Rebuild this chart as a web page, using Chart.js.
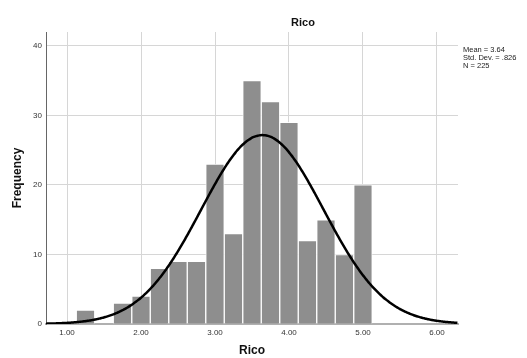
<!DOCTYPE html>
<html>
<head>
<meta charset="utf-8">
<script src="https://cdn.jsdelivr.net/npm/chart.js@4/dist/chart.umd.min.js"></script>
<style>
  html, body { margin: 0; padding: 0; background: #fff; }
  #wrap { width: 527px; height: 358px; position: relative; }
</style>
</head>
<body>
<div id="wrap"><canvas id="hist"></canvas></div>
<script>
// histogram bins (width 0.25) and their counts
const binCenters = [1.25, 1.5, 1.75, 2.0, 2.25, 2.5, 2.75, 3.0, 3.25, 3.5, 3.75, 4.0, 4.25, 4.5, 4.75, 5.0];
const frequencies = [2, 0, 3, 4, 8, 9, 9, 23, 13, 35, 32, 29, 12, 15, 10, 20];
const binWidth = 0.25;

// summary statistics shown beside the plot
const statMean = 3.64;
const statSd = 0.826;
const statN = 225;
const statLines = ['Mean = 3.64', 'Std. Dev. = .826', 'N = 225'];

const xTicks = [1, 2, 3, 4, 5, 6];
const yTicks = [0, 10, 20, 30, 40];

const FONT = "'Liberation Sans', Arial, sans-serif";

// fitted normal curve scaled to counts per bin
function normalCurve(mean, sd, n, width, from, to, step) {
  const pts = [];
  for (let x = from; x <= to + 1e-9; x += step) {
    const z = (x - mean) / sd;
    pts.push({ x: x, y: n * width * Math.exp(-0.5 * z * z) / (sd * Math.sqrt(2 * Math.PI)) });
  }
  return pts;
}

const xMin = 0.716;
const xMax = 6.284;

const extraText = {
  id: 'extraText',
  afterDraw(chart) {
    const ctx = chart.ctx;
    ctx.save();
    ctx.fillStyle = '#111';
    ctx.font = 'bold 11px ' + FONT;
    ctx.textAlign = 'center';
    ctx.textBaseline = 'middle';
    ctx.fillText('Rico', 303, 23);

    ctx.font = '7.5px ' + FONT;
    ctx.textAlign = 'left';
    ctx.fillStyle = '#222';
    statLines.forEach((t, i) => ctx.fillText(t, 463, 50 + i * 8));
    ctx.restore();
  }
};

new Chart(document.getElementById('hist'), {
  data: {
    datasets: [
      {
        type: 'line',
        data: normalCurve(statMean, statSd, statN, binWidth, xMin, xMax, 0.02),
        borderColor: '#000',
        borderWidth: 2.5,
        pointRadius: 0,
        tension: 0.3,
        order: 1,
      },
      {
        type: 'bar',
        data: binCenters.map((c, i) => ({ x: c, y: frequencies[i] })),
        backgroundColor: '#8e8e8e',
        borderColor: 'rgba(255, 255, 255, 0.85)',
        borderWidth: 1,
        barPercentage: 1,
        categoryPercentage: 1,
        order: 2,
      },
    ],
  },
  options: {
    responsive: true,
    maintainAspectRatio: false,
    animation: false,
    layout: { padding: { left: 0, top: 32, right: 69, bottom: 0 } },
    plugins: {
      legend: { display: false },
      tooltip: { enabled: false },
    },
    scales: {
      x: {
        type: 'linear',
        offset: false,
        min: xMin,
        max: xMax,
        afterBuildTicks: (scale) => { scale.ticks = xTicks.map(v => ({ value: v })); },
        afterFit: (scale) => { scale.height = 34; },
        ticks: {
          callback: (v) => Number(v).toFixed(2),
          font: { family: FONT, size: 8 },
          color: '#333',
          padding: 4,
          maxRotation: 0,
        },
        grid: { color: '#d6d6d6', lineWidth: 1, drawTicks: false, offset: false },
        border: { color: '#b0b0b0', width: 2 },
        title: {
          display: true,
          text: 'Rico',
          font: { family: FONT, size: 12, weight: 'bold' },
          color: '#111',
          padding: { top: 9, bottom: 0 },
        },
      },
      y: {
        min: 0,
        max: 42,
        afterBuildTicks: (scale) => { scale.ticks = yTicks.map(v => ({ value: v })); },
        afterFit: (scale) => { scale.width = 46; },
        ticks: {
          font: { family: FONT, size: 8 },
          color: '#333',
          padding: 4,
        },
        grid: { color: '#d6d6d6', lineWidth: 1, drawTicks: false },
        border: { color: '#666', width: 1 },
        title: {
          display: true,
          text: 'Frequency',
          font: { family: FONT, size: 12, weight: 'bold' },
          color: '#111',
          padding: { top: 10, bottom: 0 },
        },
      },
    },
  },
  plugins: [extraText],
});
</script>
</body>
</html>
